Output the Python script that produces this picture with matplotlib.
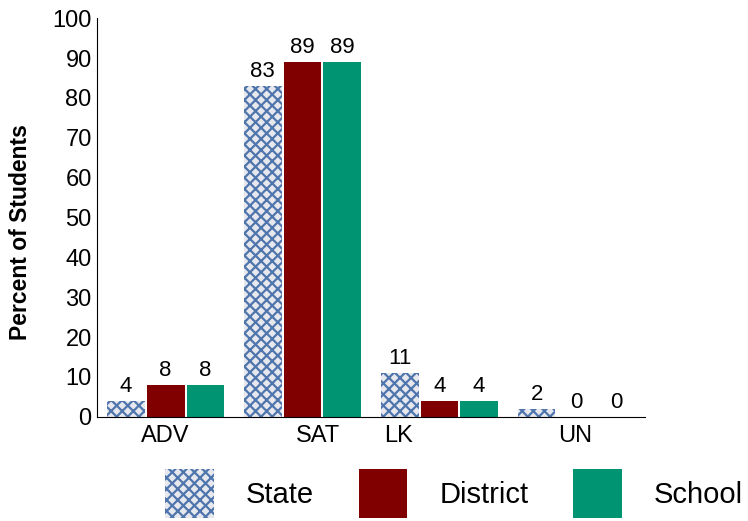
import matplotlib
matplotlib.use('Agg')
import matplotlib.pyplot as plt
import numpy as np

plt.rcParams['font.family'] = ['Liberation Sans', 'DejaVu Sans']
plt.rcParams['hatch.linewidth'] = 1.6

categories = ['ADV', 'SAT', 'LK', 'UN']
series = ['State', 'District', 'School']
state = [4, 83, 11, 2]
district = [8, 89, 4, 0]
school = [8, 89, 4, 0]
label_pos = [0.0, 1.11, 1.70, 2.99]  # tick labels sit a bit off the groups

x = np.arange(len(categories))
width = 0.275
step = 0.29

fig = plt.figure(figsize=(7.48, 5.21), dpi=100)
ax = fig.add_axes([0.13, 0.2, 0.732, 0.765])

r1 = ax.bar(x - step, state, width, color='#e6e8ee', edgecolor='#4f75ad',
            hatch='xxx', linewidth=0, label='State')
r2 = ax.bar(x, district, width, color='#800000', label='District')
r3 = ax.bar(x + step, school, width, color='#009473', label='School')

for rects, vals in [(r1, state), (r2, district), (r3, school)]:
    for rect, v in zip(rects, vals):
        ax.annotate('{}'.format(v),
                    xy=(rect.get_x() + rect.get_width() / 2, rect.get_height()),
                    xytext=(0, 3), textcoords='offset points',
                    ha='center', va='bottom', fontsize=16)

ax.set_xlim(-0.5, 3.5)
ax.set_ylim(0, 100)
ax.set_yticks(np.arange(0, 101, 10))
ax.set_xticks(label_pos)
ax.set_xticklabels(categories)
ax.tick_params(axis='both', length=0, labelsize=17)
ax.tick_params(axis='x', pad=6)
ax.tick_params(axis='y', pad=4)
ax.spines['top'].set_visible(False)
ax.spines['right'].set_visible(False)
ax.set_ylabel('Percent of Students', fontsize=16.5, fontweight='bold')
ax.yaxis.set_label_coords(-0.119, 0.464)

fig.legend(handles=[r1, r2, r3], labels=series, loc='lower left',
           bbox_to_anchor=(0.186, -0.045), ncol=3, frameon=False, fontsize=21,
           handlelength=1.65, handleheight=2.2, handletextpad=1.1,
           columnspacing=1.55)

fig.savefig('out.png', dpi=100)
